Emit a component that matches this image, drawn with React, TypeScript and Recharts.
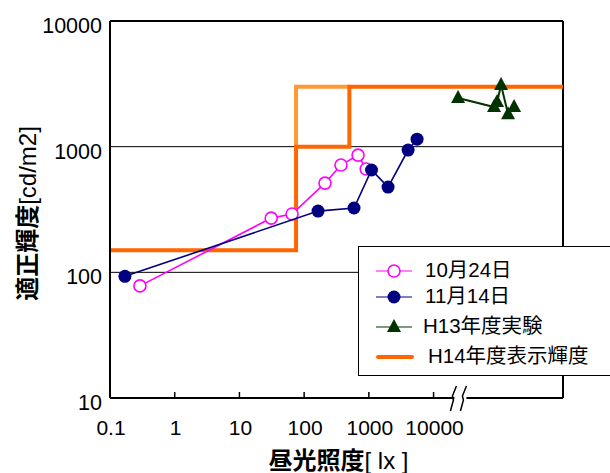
import React from 'react'
import {
  ComposedChart,
  Line,
  Scatter,
  XAxis,
  YAxis,
  CartesianGrid,
  Legend,
  ReferenceLine,
  ReferenceDot,
  Label,
} from 'recharts'

const FONT = "'Liberation Sans', Arial, 'Noto Sans CJK JP', sans-serif"

// axis ticks (log scales)
const xTicks = [0.1, 1, 10, 100, 1000, 10000]
const yTicks = [10, 100, 1000, 10000]
const xDomain = [0.1, 1000000]
const yDomain = [10, 10000]
const breakAt = 26000

// 10月24日
const oct24 = [
  { x: 0.29, y: 78 },
  { x: 31, y: 270 },
  { x: 65, y: 291 },
  { x: 210, y: 513 },
  { x: 371, y: 714 },
  { x: 681, y: 857 },
  { x: 910, y: 664 },
]

// 11月14日
const nov14 = [
  { x: 0.17, y: 93 },
  { x: 164, y: 307 },
  { x: 590, y: 325 },
  { x: 1100, y: 652 },
  { x: 1980, y: 477 },
  { x: 4040, y: 940 },
  { x: 5560, y: 1148 },
]

// H13年度実験
const h13 = [
  { x: 23900, y: 2440 },
  { x: 86000, y: 2065 },
  { x: 95800, y: 2265 },
  { x: 110400, y: 3090 },
  { x: 141700, y: 1815 },
  { x: 175400, y: 2065 },
]

// H14年度表示輝度 (step)
const h14 = [
  { x: 0.1, y: 150 },
  { x: 75, y: 150 },
  { x: 75, y: 1000 },
  { x: 500, y: 1000 },
  { x: 500, y: 3000 },
  { x: 1000000, y: 3000 },
]
const h14Alt = [
  { x: 75, y: 1000 },
  { x: 75, y: 3000 },
  { x: 500, y: 3000 },
]

const legendItems = [
  { name: '10月24日', color: '#ff00ff', marker: 'open' },
  { name: '11月14日', color: '#000080', marker: 'dot' },
  { name: 'H13年度実験', color: '#003300', marker: 'tri' },
  { name: 'H14年度表示輝度', color: '#ff6600', marker: 'bar' },
]
const legendRowTops = [14, 40, 70, 100]

const OpenCircle = (props: any) => (
  <circle cx={props.cx} cy={props.cy} r={6} fill="#fff" stroke="#ff00ff" strokeWidth={1.6} />
)
const Dot = (props: any) => <circle cx={props.cx} cy={props.cy} r={6.5} fill="#000080" />
const Tri = (props: any) => (
  <polygon
    points={`${props.cx},${props.cy - 8} ${props.cx - 7},${props.cy + 5} ${props.cx + 7},${props.cy + 5}`}
    fill="#003300"
  />
)

const XTick = ({ x, y, payload }: any) => (
  <g>
    {payload.value !== 0.1 && (
      <line x1={x} x2={x} y1={y - 6} y2={y} stroke="#000" strokeWidth={1.5} />
    )}
    <text x={x + 1} y={y + 37} textAnchor="middle" fontSize={21} fill="#000" fontFamily={FONT}>
      {payload.value}
    </text>
  </g>
)

const YTick = ({ x, y, payload }: any) => (
  <text x={x} y={y + 12} textAnchor="end" fontSize={21.5} fill="#000" fontFamily={FONT}>
    {payload.value}
  </text>
)

const BreakMark = ({ cx, cy }: any) => (
  <g>
    <rect x={cx - 6} y={cy - 2} width={12} height={4} fill="#fff" />
    <path
      d={`M${cx - 10},${cy + 13} L${cx - 7},${cy + 2} L${cx - 8},${cy - 2} L${cx - 4},${cy - 12}`}
      stroke="#000"
      strokeWidth={1.5}
      fill="none"
    />
    <path
      d={`M${cx},${cy + 13} L${cx + 3},${cy + 2} L${cx + 2},${cy - 2} L${cx + 6},${cy - 12}`}
      stroke="#000"
      strokeWidth={1.5}
      fill="none"
    />
  </g>
)

const LegendIcon = ({ color, marker }: { color: string; marker: string }) => (
  <svg width={40} height={20} style={{ position: 'absolute', left: 16, top: 0 }}>
    {marker === 'bar' ? (
      <line x1={3} x2={37} y1={10} y2={10} stroke={color} strokeWidth={4} strokeLinecap="round" />
    ) : (
      <line x1={1} x2={37} y1={10} y2={10} stroke={color} strokeWidth={1.2} />
    )}
    {marker === 'open' && <circle cx={19} cy={10} r={6} fill="#fff" stroke={color} strokeWidth={1.6} />}
    {marker === 'dot' && <circle cx={19} cy={10} r={6.5} fill={color} />}
    {marker === 'tri' && <polygon points="19,2 12,15 26,15" fill={color} />}
  </svg>
)

const LegendBox = () => (
  <div
    style={{
      position: 'relative',
      width: 270,
      height: 128,
      background: '#fff',
      border: '1px solid #000',
      fontFamily: FONT,
      fontSize: 20.5,
      color: '#000',
    }}
  >
    {legendItems.map((it, i) => (
      <div key={it.name} style={{ position: 'absolute', left: 0, top: legendRowTops[i], height: 24 }}>
        <LegendIcon color={it.color} marker={it.marker} />
        <span
          style={{
            position: 'absolute',
            left: it.marker === 'bar' ? 69 : it.marker === 'tri' ? 64 : 66,
            top: -3,
            whiteSpace: 'nowrap',
            lineHeight: '24px',
          }}
        >
          {it.name}
        </span>
      </div>
    ))}
  </div>
)

export default function App() {
  return (
    <div style={{ position: 'absolute', left: 0, top: 0, width: 610, height: 473, background: '#fff' }}>
      <ComposedChart width={610} height={473} margin={{ top: 21, right: 47, bottom: 0, left: 0 }}>
        <CartesianGrid vertical={false} stroke="#000" strokeWidth={1} />
        <XAxis
          dataKey="x"
          type="number"
          scale="log"
          domain={xDomain}
          ticks={xTicks}
          allowDataOverflow
          height={75}
          tickLine={false}
          tickSize={0}
          tickMargin={0}
          tick={<XTick />}
          axisLine={{ stroke: '#000', strokeWidth: 2 }}
        >
          <Label
            content={({ viewBox }: any) => (
              <text
                x={viewBox.x + viewBox.width / 2 + 2}
                y={viewBox.y + 71}
                textAnchor="middle"
                fontSize={24}
                fill="#000"
                fontFamily={FONT}
              >
                <tspan fontWeight="bold">昼光照度</tspan>
                <tspan>[ lx ]</tspan>
              </text>
            )}
          />
        </XAxis>
        <YAxis
          dataKey="y"
          type="number"
          scale="log"
          domain={yDomain}
          ticks={yTicks}
          allowDataOverflow
          width={110}
          tickLine={false}
          tick={<YTick />}
          axisLine={{ stroke: '#000', strokeWidth: 2 }}
        >
          <Label
            content={({ viewBox }: any) => {
              const cx = 27
              const cy = viewBox.y + viewBox.height / 2 + 4
              return (
                <text
                  x={cx}
                  y={cy}
                  transform={`rotate(-90 ${cx} ${cy})`}
                  textAnchor="middle"
                  dominantBaseline="central"
                  fontSize={24}
                  fill="#000"
                  fontFamily={FONT}
                >
                  <tspan fontWeight="bold">適正輝度</tspan>
                  <tspan>[cd/m2]</tspan>
                </text>
              )
            }}
          />
        </YAxis>
        <ReferenceLine y={10000} stroke="#000" strokeWidth={2} ifOverflow="visible" />
        <ReferenceLine x={1000000} stroke="#000" strokeWidth={2} ifOverflow="visible" />
        <Line
          data={h14Alt}
          dataKey="y"
          stroke="#ff9933"
          strokeWidth={4}
          dot={false}
          activeDot={false}
          type="linear"
          isAnimationActive={false}
          legendType="none"
        />
        <Line
          data={h14}
          dataKey="y"
          name="H14年度表示輝度"
          stroke="#ff6600"
          strokeWidth={4}
          dot={false}
          activeDot={false}
          type="linear"
          isAnimationActive={false}
        />
        <Scatter
          data={oct24}
          name="10月24日"
          line={{ stroke: '#ff00ff', strokeWidth: 1.6 }}
          lineJointType="linear"
          shape={<OpenCircle />}
          isAnimationActive={false}
        />
        <Scatter
          data={nov14}
          name="11月14日"
          line={{ stroke: '#000080', strokeWidth: 1.6 }}
          lineJointType="linear"
          shape={<Dot />}
          isAnimationActive={false}
        />
        <Scatter
          data={h13}
          name="H13年度実験"
          line={{ stroke: '#003300', strokeWidth: 2 }}
          lineJointType="linear"
          shape={<Tri />}
          isAnimationActive={false}
        />
        <ReferenceDot x={breakAt} y={10} ifOverflow="visible" shape={<BreakMark />} />
        <Legend
          layout="vertical"
          align="center"
          verticalAlign="middle"
          content={<LegendBox />}
          wrapperStyle={{ position: 'absolute', left: 358, top: 246, width: 270, height: 130 }}
        />
      </ComposedChart>
    </div>
  )
}
